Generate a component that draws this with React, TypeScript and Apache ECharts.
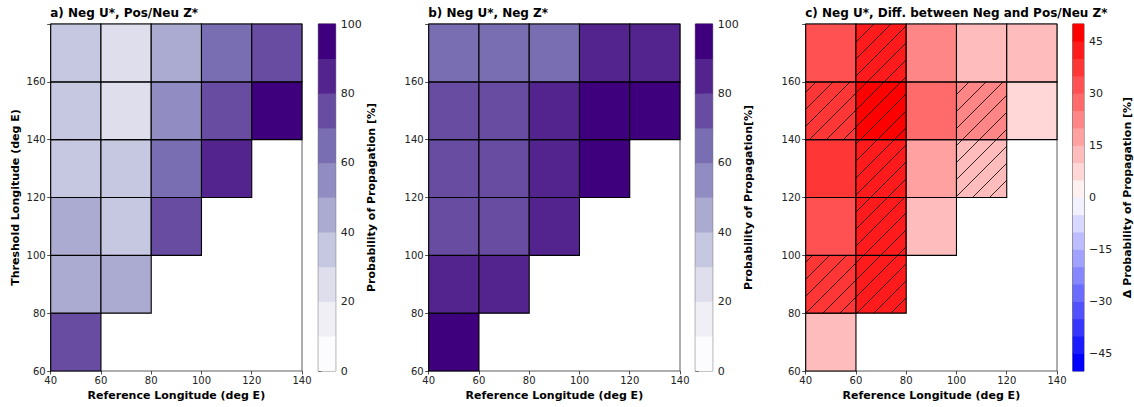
import React, { useEffect, useRef } from "react";
import * as echarts from "echarts";

// Bin edges (deg E)
const refLonEdges = [40, 60, 80, 100, 120, 140];
const thrLonEdges = [60, 80, 100, 120, 140, 160, 180];

// Rows: threshold-longitude bins 60-80 ... 160-180; columns: reference-longitude bins 40-60 ... 120-140
const probNegUPosNeuZ = [
  [75, null, null, null, null],
  [45, 45, null, null, null],
  [45, 35, 75, null, null],
  [35, 35, 65, 85, null],
  [35, 25, 55, 75, 95],
  [35, 25, 45, 65, 75],
];
const probNegUNegZ = [
  [95, null, null, null, null],
  [85, 85, null, null, null],
  [75, 75, 85, null, null],
  [75, 75, 85, 95, null],
  [75, 75, 85, 95, 95],
  [65, 65, 65, 85, 85],
];
const diffProb = [
  [12, null, null, null, null],
  [38, 42, null, null, null],
  [32, 42, 12, null, null],
  [38, 42, 17, 12, null],
  [38, 47, 27, 22, 7],
  [32, 42, 22, 12, 12],
];
// 1 = significant (hatched)
const diffSignificant = [
  [0, 0, 0, 0, 0],
  [1, 1, 0, 0, 0],
  [0, 1, 0, 0, 0],
  [0, 1, 0, 1, 0],
  [1, 1, 0, 1, 0],
  [0, 1, 0, 0, 0],
];

// Colour levels
const purpleEdges = [0, 10, 20, 30, 40, 50, 60, 70, 80, 90, 100];
const purpleColors = [
  "#fcfbfd", "#f1eff6", "#dfdeed", "#c6c7e1", "#abaad1",
  "#918dc2", "#796eb2", "#684ca1", "#53248e", "#3f007d",
];
const purpleTicks = [0, 20, 40, 60, 80, 100];
const diffEdges = [-50, -45, -40, -35, -30, -25, -20, -15, -10, -5, 0, 5, 10, 15, 20, 25, 30, 35, 40, 45, 50];
const diffColors = [
  "#0000ff", "#1b1bff", "#3636ff", "#5151ff", "#6b6bff",
  "#8686ff", "#a1a1ff", "#bcbcff", "#d7d7ff", "#f1f1ff",
  "#fff1f1", "#ffd7d7", "#ffbcbc", "#ffa1a1", "#ff8686",
  "#ff6b6b", "#ff5151", "#ff3636", "#ff1b1b", "#ff0000",
];
const diffTicks = [-45, -30, -15, 0, 15, 30, 45];

const titles = [
  "a) Neg U*, Pos/Neu Z*",
  "b) Neg U*, Neg Z*",
  "c) Neg U*, Diff. between Neg and Pos/Neu Z*",
];
const xAxisTitle = "Reference Longitude (deg E)";
const yAxisTitle = "Threshold Longitude (deg E)";
const cbarTitles = [
  "Probability of Propagation [%]",
  "Probability of Propagation[%]",
  "Δ Probability of Propagation [%]",
];

const FONT = "DejaVu Sans";

function cells(grid: (number | null)[][]) {
  const out: number[][] = [];
  grid.forEach((row, r) =>
    row.forEach((v, c) => {
      if (v !== null)
        out.push([refLonEdges[c], thrLonEdges[r], refLonEdges[c + 1], thrLonEdges[r + 1], v]);
    })
  );
  return out;
}
function hatchCells(flags: number[][]) {
  const out: number[][] = [];
  flags.forEach((row, r) =>
    row.forEach((f, c) => {
      if (f) out.push([refLonEdges[c], thrLonEdges[r], refLonEdges[c + 1], thrLonEdges[r + 1]]);
    })
  );
  return out;
}
function cbarData(edges: number[]) {
  const out: number[][] = [];
  for (let i = 0; i < edges.length - 1; i++) {
    out.push([0, edges[i], 1, edges[i + 1], (edges[i] + edges[i + 1]) / 2]);
  }
  return out;
}
function pieces(edges: number[], colors: string[]) {
  return colors.map((color, i) => ({ gte: edges[i], lt: edges[i + 1], color }));
}

const cellRender = (params: any, api: any) => {
  const p0 = api.coord([api.value(0), api.value(1)]);
  const p1 = api.coord([api.value(2), api.value(3)]);
  return {
    type: "rect",
    shape: { x: p0[0], y: p1[1], width: p1[0] - p0[0], height: p0[1] - p1[1] },
    style: { fill: api.visual("color"), stroke: "#000", lineWidth: 1.1 },
  };
};
const cbarRender = (params: any, api: any) => {
  const p0 = api.coord([api.value(0), api.value(1)]);
  const p1 = api.coord([api.value(2), api.value(3)]);
  return {
    type: "rect",
    shape: { x: p0[0], y: p1[1] - 0.3, width: p1[0] - p0[0], height: p0[1] - p1[1] + 0.6 },
    style: { fill: api.visual("color"), stroke: null },
  };
};
const HATCH_SPACING = 17;
const HATCH_PHASE = 1119;
const hatchRender = (params: any, api: any) => {
  const p0 = api.coord([api.value(0), api.value(1)]);
  const p1 = api.coord([api.value(2), api.value(3)]);
  const x0 = p0[0], x1 = p1[0], yTop = p1[1], yBot = p0[1];
  const children: any[] = [];
  const cMin = x0 + yTop, cMax = x1 + yBot;
  let k = Math.ceil((cMin - HATCH_PHASE) / HATCH_SPACING);
  for (; HATCH_PHASE + k * HATCH_SPACING <= cMax; k++) {
    const C = HATCH_PHASE + k * HATCH_SPACING;
    const xa = Math.max(x0, C - yBot);
    const xb = Math.min(x1, C - yTop);
    if (xb - xa < 0.5) continue;
    children.push({
      type: "line",
      shape: { x1: xa, y1: C - xa, x2: xb, y2: C - xb },
      style: { stroke: "#000", lineWidth: 0.8 },
    });
  }
  return { type: "group", children };
};

const tickStyle = { show: true, length: 3.5, lineStyle: { color: "#222", width: 0.8 } };
const labelStyle = { fontFamily: FONT, fontSize: 10, color: "#222" };
const nameStyle = { fontFamily: FONT, fontSize: 11, fontWeight: "bold" as const, color: "#000" };

export default function App() {
  const ref = useRef<HTMLDivElement>(null);
  useEffect(() => {
    if (!ref.current) return;
    const chart = echarts.init(ref.current, undefined, { renderer: "svg" });

    const mainLefts = [50.7, 428.7, 805.7];
    const cbarLefts = [318.3, 695.3, 1072.7];
    const grids: any[] = [];
    const xAxes: any[] = [];
    const yAxes: any[] = [];
    for (let p = 0; p < 3; p++) {
      grids.push({
        left: mainLefts[p], top: 24, width: 251.3, height: 347,
        show: true, borderColor: "#333", borderWidth: 0.8, backgroundColor: "transparent",
      });
      grids.push({
        left: cbarLefts[p], top: 24, width: 17.4, height: 347,
        show: true, borderColor: "#333", borderWidth: 0.8, backgroundColor: "transparent",
      });
      xAxes.push({
        type: "value", gridIndex: 2 * p, min: 40, max: 140, interval: 20,
        axisLine: { show: false }, axisTick: tickStyle, splitLine: { show: false },
        axisLabel: { ...labelStyle, margin: 4, showMinLabel: true, showMaxLabel: true },
        name: xAxisTitle, nameLocation: "middle", nameGap: 17, nameTextStyle: nameStyle,
      });
      xAxes.push({
        type: "value", gridIndex: 2 * p + 1, min: 0, max: 1, show: false,
      });
      yAxes.push({
        type: "value", gridIndex: 2 * p, min: 60, max: 180, interval: 20,
        axisLine: { show: false }, axisTick: tickStyle, splitLine: { show: false },
        axisLabel: { ...labelStyle, margin: 5, formatter: (v: number) => (v === 180 ? "" : String(v)) },
        name: p === 0 ? yAxisTitle : "", nameLocation: "middle", nameGap: 30, nameTextStyle: nameStyle,
      });
      if (p < 2) {
        yAxes.push({
          type: "value", gridIndex: 2 * p + 1, position: "right", min: 0, max: 100, interval: 20,
          axisLine: { show: false }, axisTick: tickStyle, splitLine: { show: false },
          axisLabel: { ...labelStyle, margin: 5, fontSize: 11 },
          name: cbarTitles[p], nameLocation: "middle", nameGap: 29, nameTextStyle: nameStyle,
        });
      } else {
        yAxes.push({
          type: "value", gridIndex: 2 * p + 1, position: "right", min: -50, max: 50,
          axisLine: { show: false },
          axisTick: { ...tickStyle, customValues: diffTicks },
          splitLine: { show: false },
          axisLabel: {
            ...labelStyle, margin: 5, fontSize: 11, customValues: diffTicks,
            formatter: (v: number) => String(v).replace("-", "\u2212"),
          },
          name: cbarTitles[p], nameLocation: "middle", nameGap: 38, nameTextStyle: nameStyle,
        });
      }
    }

    const enc = { x: [0, 2], y: [1, 3] };
    const series: any[] = [
      { type: "custom", xAxisIndex: 0, yAxisIndex: 0, data: cells(probNegUPosNeuZ), renderItem: cellRender, encode: enc, clip: false },
      { type: "custom", xAxisIndex: 1, yAxisIndex: 1, data: cbarData(purpleEdges), renderItem: cbarRender, encode: enc },
      { type: "custom", xAxisIndex: 2, yAxisIndex: 2, data: cells(probNegUNegZ), renderItem: cellRender, encode: enc, clip: false },
      { type: "custom", xAxisIndex: 3, yAxisIndex: 3, data: cbarData(purpleEdges), renderItem: cbarRender, encode: enc },
      { type: "custom", xAxisIndex: 4, yAxisIndex: 4, data: cells(diffProb), renderItem: cellRender, encode: enc, clip: false },
      { type: "custom", xAxisIndex: 4, yAxisIndex: 4, data: hatchCells(diffSignificant), renderItem: hatchRender, encode: enc, silent: true },
      { type: "custom", xAxisIndex: 5, yAxisIndex: 5, data: cbarData(diffEdges), renderItem: cbarRender, encode: enc },
    ];

    chart.setOption({
      animation: false,
      backgroundColor: "#fff",
      title: titles.map((t, i) => ({
        text: t, left: mainLefts[i] - 0.5, top: 7, padding: 0,
        textStyle: { fontFamily: FONT, fontSize: 12, fontWeight: "bold", color: "#000" },
      })),
      grid: grids,
      xAxis: xAxes,
      yAxis: yAxes,
      visualMap: [
        { type: "piecewise", show: false, dimension: 4, seriesIndex: [0, 1, 2, 3], pieces: pieces(purpleEdges, purpleColors) },
        { type: "piecewise", show: false, dimension: 4, seriesIndex: [4, 6], pieces: pieces(diffEdges, diffColors) },
      ],
      series,
    });
    return () => chart.dispose();
  }, []);
  return (
    <div
      ref={ref}
      style={{ position: "fixed", left: 0, top: 0, width: 1134, height: 407 }}
    />
  );
}
